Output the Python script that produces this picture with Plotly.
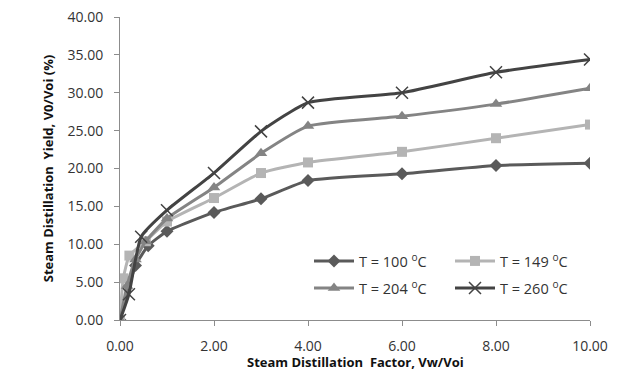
import plotly.graph_objects as go

# Data
x_100 = [0, 0.33, 0.6, 1, 2, 3, 4, 6, 8, 10]
y_100 = [0, 7.2, 9.8, 11.7, 14.2, 16.0, 18.4, 19.3, 20.4, 20.7]

x_149 = [0, 0.07, 0.2, 0.55, 1, 2, 3, 4, 6, 8, 10]
y_149 = [0, 5.5, 8.5, 10.4, 13.0, 16.1, 19.4, 20.8, 22.2, 24.0, 25.8]

x_204 = [0, 0.15, 0.33, 0.55, 1, 2, 3, 4, 6, 8, 10]
y_204 = [0, 4.5, 8.0, 10.4, 13.4, 17.5, 22.0, 25.6, 26.9, 28.5, 30.6]

x_260 = [0, 0.19, 0.45, 1, 2, 3, 4, 6, 8, 10]
y_260 = [0, 3.4, 11.0, 14.5, 19.4, 24.9, 28.7, 30.0, 32.7, 34.4]

names = ["T = 100 <sup>o</sup>C", "T = 149 <sup>o</sup>C",
         "T = 204 <sup>o</sup>C", "T = 260 <sup>o</sup>C"]

x_ticks = [0, 2, 4, 6, 8, 10]
y_ticks = [0, 5, 10, 15, 20, 25, 30, 35, 40]

x_title = "<b>Steam Distillation  Factor, Vw/Voi</b>"
y_title = "<b>Steam Distillation  Yield, V0/Voi (%)</b>"

fig = go.Figure()

series = [
    (x_100, y_100, names[0], "#5a5a5a", "diamond", 10, "legend"),
    (x_149, y_149, names[1], "#b4b4b4", "square", 10, "legend2"),
    (x_204, y_204, names[2], "#848484", "triangle-up", 11, "legend3"),
    (x_260, y_260, names[3], "#434343", "x-thin", 12, "legend4"),
]

for xs, ys, nm, col, sym, sz, lg in series:
    marker = dict(symbol=sym, size=sz, color=col)
    if sym == "x-thin":
        marker["line"] = dict(color=col, width=1.5)
    fig.add_trace(go.Scatter(
        x=xs, y=ys, name=nm, mode="lines+markers", showlegend=True,
        line=dict(color=col, width=3, shape="spline", smoothing=0.5),
        marker=marker, legend=lg,
    ))

font_family = "Open Sans, Lato, sans-serif"

def leg(xpx, ypx):
    return dict(x=(xpx - 120) / 470, y=(320 - ypx) / 303,
                xanchor="left", yanchor="middle", visible=True,
                bgcolor="rgba(0,0,0,0)", borderwidth=0,
                font=dict(size=14.5, color="#333333"), itemwidth=40)

fig.update_layout(
    width=619, height=370,
    showlegend=True,
    margin=dict(l=120, r=29, t=17, b=50, autoexpand=False),
    paper_bgcolor="white", plot_bgcolor="white",
    font=dict(family=font_family, size=14, color="#333333"),
    legend=leg(309, 261),
    legend2=leg(450, 261),
    legend3=leg(309, 288),
    legend4=leg(450, 288),
    xaxis=dict(
        range=[0, 10], tickvals=x_ticks, tickformat=".2f",
        showgrid=False, zeroline=False, showline=True, linecolor="#8c8c8c",
        linewidth=1, ticks="outside", ticklen=5, tickcolor="#8c8c8c",
        ticklabelstandoff=8,
        tickfont=dict(size=14, color="#333333"),
    ),
    yaxis=dict(
        range=[0, 40], tickvals=y_ticks, tickformat=".2f",
        showgrid=False, zeroline=False, showline=True, linecolor="#8c8c8c",
        linewidth=1, ticks="outside", ticklen=5, tickcolor="#8c8c8c",
        ticklabelstandoff=8,
        tickfont=dict(size=14, color="#333333"),
        title=dict(text=y_title,
                   font=dict(size=13, color="#111111"), standoff=10),
    ),
    annotations=[dict(
        text=x_title, xref="paper", yref="paper", x=0.5,
        y=(320 - 362) / 303, xanchor="center", yanchor="middle",
        showarrow=False, font=dict(size=13, color="#111111"),
    )],
)

fig.write_html("out.html")
